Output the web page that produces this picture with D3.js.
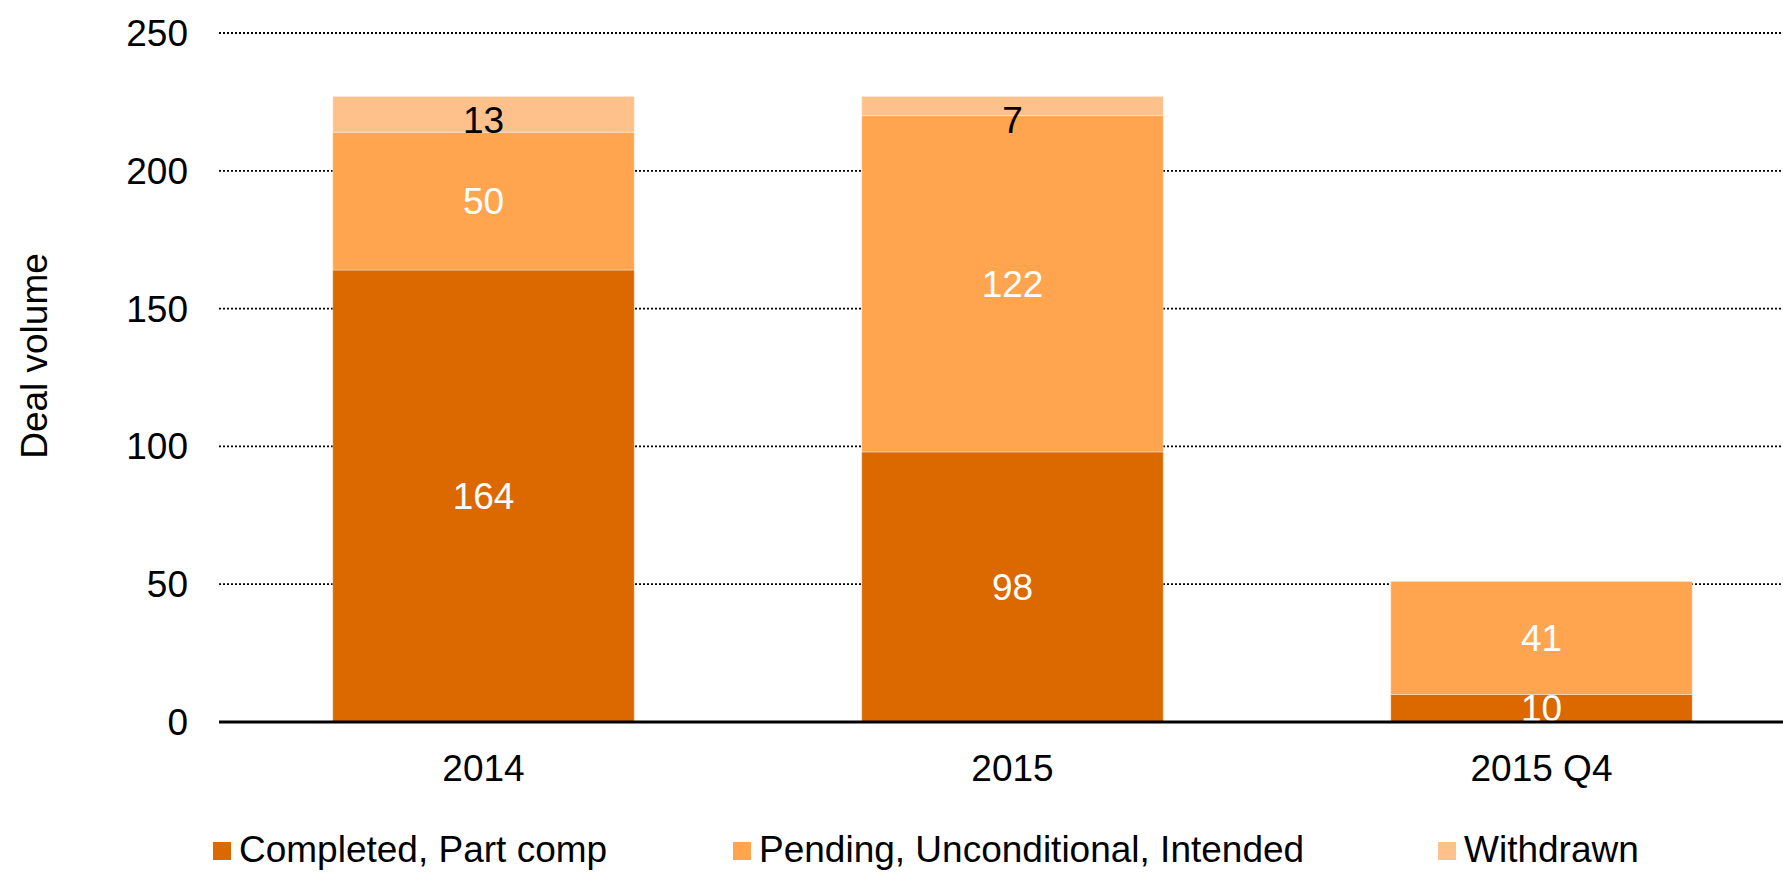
<!DOCTYPE html>
<html>
<head>
<meta charset="utf-8">
<style>
  body { margin: 0; background: #fff; }
  text { font-family: "Liberation Sans", Arial, sans-serif; }
</style>
</head>
<body>
<script src="https://cdn.jsdelivr.net/npm/d3@7/dist/d3.min.js"></script>
<div id="chart"></div>
<script>
  // data
  var categories = ["2014", "2015", "2015 Q4"];
  var seriesNames = ["Completed, Part comp", "Pending, Unconditional, Intended", "Withdrawn"];
  var completed = [164, 98, 10];
  var pending = [50, 122, 41];
  var withdrawn = [13, 7, 0];
  var yTicks = [0, 50, 100, 150, 200, 250];
  var colors = ["#dc6900", "#ffa550", "#ffc18b"];
  var labelColors = ["#fff", "#fff", "#000"];

  var W = 1783, H = 872;
  var x0 = 219, xEnd = 1806;   // plot runs past the right edge (cropped)
  var yTop = 33, yBottom = 722;

  var svg = d3.select("#chart").append("svg")
      .attr("width", W)
      .attr("height", H);

  var x = d3.scaleBand().domain(categories).range([x0, xEnd]).paddingInner(0.43).paddingOuter(0.215);
  var y = d3.scaleLinear().domain([0, 250]).range([yBottom, yTop]);

  // gridlines
  svg.append("g").selectAll("line")
    .data(yTicks.filter(function(d) { return d > 0; }))
    .enter().append("line")
      .attr("x1", x0).attr("x2", W)
      .attr("y1", function(d) { return y(d); })
      .attr("y2", function(d) { return y(d); })
      .attr("stroke", "#000")
      .attr("stroke-width", 1.8)
      .attr("stroke-dasharray", "2,2");

  // y tick labels
  svg.append("g").selectAll("text")
    .data(yTicks)
    .enter().append("text")
      .attr("x", 188)
      .attr("y", function(d) { return y(d); })
      .attr("dy", "0.35em")
      .attr("text-anchor", "end")
      .style("font-size", "37px")
      .text(function(d) { return d; });

  // stack the series
  var rows = categories.map(function(c, i) {
    return { cat: c, s0: completed[i], s1: pending[i], s2: withdrawn[i] };
  });
  var stack = d3.stack().keys(["s0", "s1", "s2"])(rows);

  var layers = svg.append("g").selectAll("g")
    .data(stack)
    .enter().append("g")
      .attr("fill", function(d, i) { return colors[i]; });

  layers.selectAll("rect")
    .data(function(d) { return d.filter(function(p) { return p[1] - p[0] > 0; }); })
    .enter().append("rect")
      .attr("x", function(d) { return x(d.data.cat); })
      .attr("width", x.bandwidth())
      .attr("y", function(d) { return y(d[1]); })
      .attr("height", function(d) { return y(d[0]) - y(d[1]); })
      .attr("stroke", "#fff")
      .attr("stroke-opacity", 0.35)
      .attr("stroke-width", 1);

  // data labels
  stack.forEach(function(layer, i) {
    svg.append("g").selectAll("text")
      .data(layer.filter(function(p) { return p[1] - p[0] > 0; }))
      .enter().append("text")
        .attr("x", function(d) { return x(d.data.cat) + x.bandwidth() / 2; })
        .attr("y", function(d) {
          var mid = (y(d[0]) + y(d[1])) / 2;
          var total = d.data.s0 + d.data.s1 + d.data.s2;
          return Math.max(mid, y(total) + 24);
        })
        .attr("dy", "0.35em")
        .attr("text-anchor", "middle")
        .attr("fill", labelColors[i])
        .style("font-size", "37px")
        .text(function(d) { return d[1] - d[0]; });
  });

  // zero axis line
  svg.append("line")
    .attr("x1", x0).attr("x2", W)
    .attr("y1", y(0)).attr("y2", y(0))
    .attr("stroke", "#000")
    .attr("stroke-width", 3);

  // x labels
  svg.append("g").selectAll("text")
    .data(categories)
    .enter().append("text")
      .attr("x", function(d) { return x(d) + x.bandwidth() / 2; })
      .attr("y", 781)
      .attr("text-anchor", "middle")
      .style("font-size", "37px")
      .text(function(d) { return d; });

  // y axis title
  svg.append("text")
    .attr("transform", "translate(47,356) rotate(-90)")
    .attr("text-anchor", "middle")
    .style("font-size", "37px")
    .text("Deal volume");

  // legend (nudged up a few px so descenders stay inside)
  var legendX = [213, 733, 1438];
  var legend = svg.append("g").selectAll("g")
    .data(seriesNames)
    .enter().append("g")
      .attr("transform", function(d, i) { return "translate(" + legendX[i] + ",0)"; });
  legend.append("rect")
    .attr("x", 0).attr("y", 842)
    .attr("width", 18).attr("height", 18)
    .attr("fill", function(d, i) { return colors[i]; });
  legend.append("text")
    .attr("x", 26).attr("y", 862)
    .style("font-size", "37px")
    .text(function(d) { return d; });
</script>
</body>
</html>
